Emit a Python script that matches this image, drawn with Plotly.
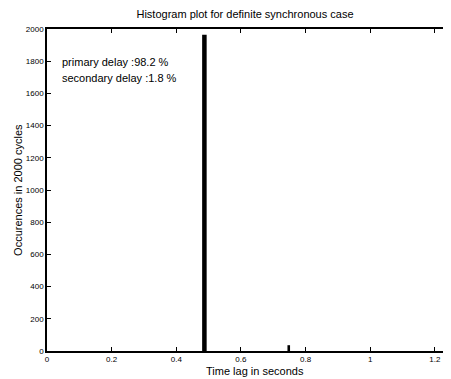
import plotly.graph_objects as go

bin_centers = [0.487, 0.748]
counts = [1964, 36]
bin_width = [0.014, 0.008]
x_ticks = [0, 0.2, 0.4, 0.6, 0.8, 1.0, 1.2]
x_tick_labels = ["0", "0.2", "0.4", "0.6", "0.8", "1", "1.2"]
y_ticks = list(range(0, 2001, 200))

fig = go.Figure()
fig.add_trace(go.Bar(x=bin_centers, y=counts, width=bin_width,
                     marker=dict(color="black", line=dict(width=0)),
                     showlegend=False))

font = "Liberation Sans, Arial, Helvetica, sans-serif"
# page body has an 8px default margin, so the figure is sized to fill the rest
fig.update_layout(
    width=443, height=371,
    margin=dict(l=39, r=0, t=21, b=28),
    paper_bgcolor="white", plot_bgcolor="white",
    font=dict(family=font, color="black", size=9),
    title=dict(text="Histogram plot for definite synchronous case",
               x=0.535, xanchor="center", y=0.984, yanchor="middle",
               font=dict(size=11)),
    xaxis=dict(range=[0, 1.25], tickvals=x_ticks, ticktext=x_tick_labels,
               ticks="inside", ticklen=4, tickcolor="black",
               showline=True, linecolor="black", linewidth=1.5, mirror="ticks",
               showgrid=False, zeroline=False, automargin=False,
               ticklabeloverflow="allow",
               tickfont=dict(size=8)),
    yaxis=dict(range=[0, 2000], tickvals=y_ticks,
               ticks="inside", ticklen=4, tickcolor="black",
               showline=True, linecolor="black", linewidth=1.5,
               showgrid=False, zeroline=False, automargin=False,
               tickfont=dict(size=8)),
    annotations=[
        dict(text="Time lag in seconds", x=0.515, y=-0.063, xref="paper", yref="paper",
             xanchor="center", yanchor="middle", showarrow=False, font=dict(size=11)),
        dict(text="primary delay :98.2 %", x=0.04, y=1795, xref="x", yref="y",
             xanchor="left", yanchor="middle", showarrow=False, font=dict(size=11)),
        dict(text="secondary delay :1.8 %", x=0.04, y=1696, xref="x", yref="y",
             xanchor="left", yanchor="middle", showarrow=False, font=dict(size=11)),
        dict(text="Occurences in 2000 cycles", x=-0.072, y=0.5, xref="paper", yref="paper",
             xanchor="center", yanchor="middle", textangle=-90, showarrow=False,
             font=dict(size=11)),
    ],
)
fig.write_html("out.html")
